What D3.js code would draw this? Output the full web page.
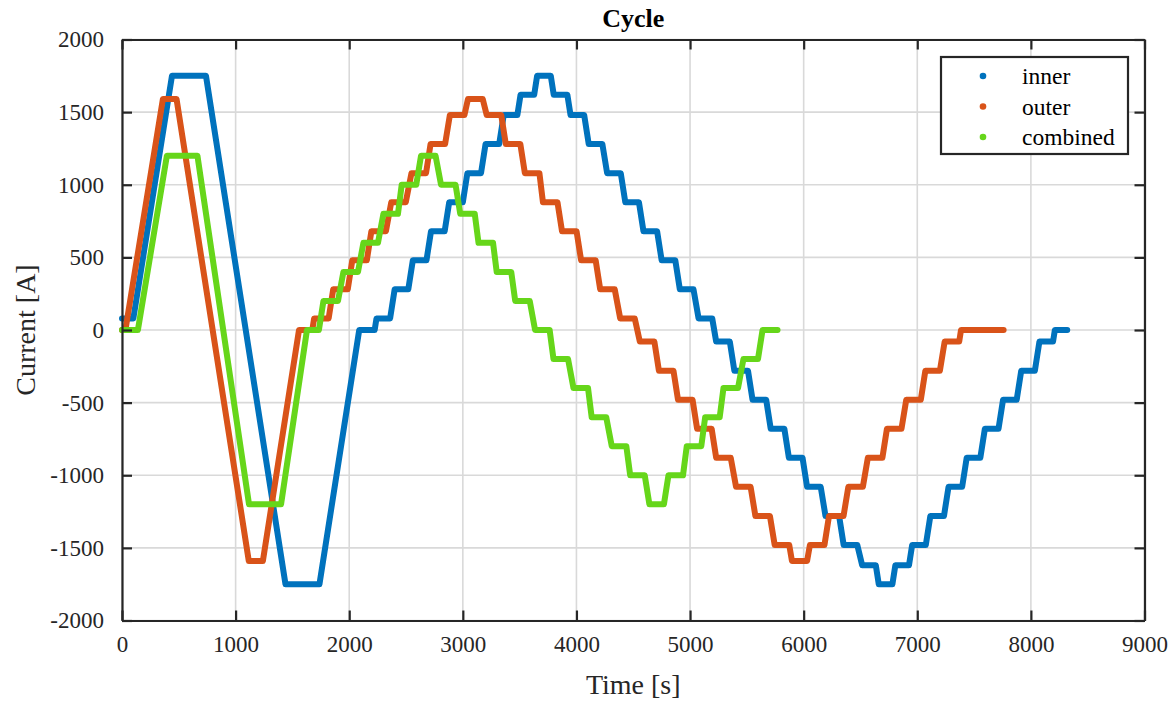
<!DOCTYPE html>
<html>
<head>
<meta charset="utf-8">
<script src="https://cdn.jsdelivr.net/npm/d3@7"></script>
<style>
  html, body { margin: 0; padding: 0; background: #fff; }
  svg { display: block; font-family: "Liberation Serif", "Times New Roman", serif; }
</style>
</head>
<body>
<svg id="chart" width="1175" height="701"></svg>
<script>
// ---------------- data ----------------
const seriesNames = ["inner", "outer", "combined"];
const seriesColors = ["#0072BD", "#D95319", "#66D61A"];

const xTicks = [0, 1000, 2000, 3000, 4000, 5000, 6000, 7000, 8000, 9000];
const yTicks = [-2000, -1500, -1000, -500, 0, 500, 1000, 1500, 2000];

// inner coil: breakpoint times [s] and currents [A]
const innerTime = [0, 100, 440, 739, 1439, 1738, 2088, 2224,
  2240, 2360, 2400, 2520, 2560, 2680, 2720, 2840, 2880, 3000, 3040, 3160,
  3200, 3320, 3360, 3480, 3508, 3628, 3654, 3774, 3800, 3920, 3948, 4068,
  4108, 4228, 4270, 4390, 4430, 4550, 4590, 4710, 4750, 4870, 4910, 5030,
  5075, 5195, 5230, 5350, 5390, 5510, 5550, 5670, 5710, 5830, 5870, 5990,
  6030, 6150, 6192, 6312, 6352, 6472, 6515, 6635, 6661, 6781, 6807, 6927,
  6955, 7075, 7115, 7235, 7275, 7395, 7435, 7555, 7595, 7715, 7755, 7875,
  7915, 8035, 8075, 8195, 8211, 8320];
const innerCurrent = [80, 80, 1750, 1750, -1750, -1750, 0, 0,
  80, 80, 280, 280, 480, 480, 680, 680, 880, 880, 1080, 1080,
  1280, 1280, 1480, 1480, 1620, 1620, 1750, 1750, 1620, 1620, 1480, 1480,
  1280, 1280, 1080, 1080, 880, 880, 680, 680, 480, 480, 280, 280,
  80, 80, -80, -80, -280, -280, -480, -480, -680, -680, -880, -880,
  -1080, -1080, -1280, -1280, -1480, -1480, -1620, -1620, -1750, -1750, -1620, -1620,
  -1480, -1480, -1280, -1280, -1080, -1080, -880, -880, -680, -680, -480, -480,
  -280, -280, -80, -80, 0, 0];

// outer coil
const outerTime = [0, 30, 360, 480, 1116, 1240, 1558, 1675,
  1691, 1819, 1859, 1987, 2027, 2155, 2195, 2323, 2370, 2498, 2548, 2676,
  2716, 2844, 2886, 3014, 3045, 3175, 3210, 3338, 3378, 3506, 3546, 3674,
  3705, 3833, 3873, 4001, 4041, 4169, 4209, 4337, 4385, 4513, 4558, 4686,
  4726, 4854, 4894, 5022, 5062, 5190, 5230, 5358, 5405, 5533, 5575, 5703,
  5745, 5873, 5897, 6030, 6055, 6183, 6223, 6351, 6393, 6521, 6565, 6693,
  6733, 6861, 6903, 7031, 7071, 7199, 7241, 7369, 7385, 7760];
const outerCurrent = [0, 0, 1590, 1590, -1590, -1590, 0, 0,
  80, 80, 280, 280, 480, 480, 680, 680, 880, 880, 1080, 1080,
  1280, 1280, 1480, 1480, 1590, 1590, 1480, 1480, 1280, 1280, 1080, 1080,
  880, 880, 680, 680, 480, 480, 280, 280, 80, 80, -80, -80,
  -280, -280, -480, -480, -680, -680, -880, -880, -1080, -1080, -1280, -1280,
  -1480, -1480, -1590, -1590, -1480, -1480, -1280, -1280, -1080, -1080, -880, -880,
  -680, -680, -480, -480, -280, -280, -80, -80, 0, 0];

// combined
const combinedTime = [0, 140, 395, 664, 1118, 1400, 1628, 1733,
  1773, 1901, 1949, 2077, 2125, 2253, 2301, 2429, 2462, 2590, 2632, 2760,
  2808, 2936, 2977, 3105, 3138, 3266, 3298, 3426, 3461, 3589, 3636, 3764,
  3798, 3926, 3974, 4102, 4134, 4262, 4311, 4439, 4473, 4601, 4642, 4770,
  4810, 4938, 4971, 5099, 5133, 5261, 5294, 5422, 5470, 5598, 5638, 5770];
const combinedCurrent = [0, 0, 1200, 1200, -1200, -1200, 0, 0,
  200, 200, 400, 400, 600, 600, 800, 800, 1000, 1000, 1200, 1200,
  1000, 1000, 800, 800, 600, 600, 400, 400, 200, 200, 0, 0,
  -200, -200, -400, -400, -600, -600, -800, -800, -1000, -1000, -1200, -1200,
  -1000, -1000, -800, -800, -600, -600, -400, -400, -200, -200, 0, 0];

// ---------------- layout ----------------
const W = 1175, H = 701;
const m = { left: 122, top: 39.5, right: 30.5, bottom: 80.5 };
const pw = W - m.left - m.right;   // plot width
const ph = H - m.top - m.bottom;   // plot height

const svg = d3.select("#chart");
const x = d3.scaleLinear().domain([0, 9000]).range([0, pw]);
const y = d3.scaleLinear().domain([-2000, 2000]).range([ph, 0]);

const g = svg.append("g").attr("transform", `translate(${m.left},${m.top})`);

// background
g.append("rect").attr("width", pw).attr("height", ph).attr("fill", "#fff");

// grid
const grid = g.append("g").attr("class", "grid");
grid.selectAll("line.vx").data(xTicks).join("line")
  .attr("x1", d => x(d)).attr("x2", d => x(d))
  .attr("y1", 0).attr("y2", ph)
  .attr("stroke", "#d9d9d9").attr("stroke-width", 1.6);
grid.selectAll("line.hy").data(yTicks).join("line")
  .attr("y1", d => y(d)).attr("y2", d => y(d))
  .attr("x1", 0).attr("x2", pw)
  .attr("stroke", "#d9d9d9").attr("stroke-width", 1.6);

// clip
svg.append("defs").append("clipPath").attr("id", "clip")
  .append("rect").attr("x", -3).attr("y", -3).attr("width", pw + 6).attr("height", ph + 6);

const series = [
  { name: seriesNames[0], color: seriesColors[0], t: innerTime, v: innerCurrent },
  { name: seriesNames[1], color: seriesColors[1], t: outerTime, v: outerCurrent },
  { name: seriesNames[2], color: seriesColors[2], t: combinedTime, v: combinedCurrent }
];

const line = d3.line().x(d => x(d[0])).y(d => y(d[1]));
const lines = g.append("g").attr("clip-path", "url(#clip)");
series.forEach(s => {
  const pts = s.t.map((t, i) => [t, s.v[i]]);
  lines.append("path").datum(pts)
    .attr("d", line)
    .attr("fill", "none")
    .attr("stroke", s.color)
    .attr("stroke-width", 6)
    .attr("stroke-linejoin", "round")
    .attr("stroke-linecap", "round");
});

// axes
const axisColor = "#262626";
const tickLen = 10;
function styleAxis(sel) {
  sel.select(".domain").attr("stroke", axisColor).attr("stroke-width", 2.2);
  sel.selectAll(".tick line").attr("stroke", axisColor).attr("stroke-width", 2.2);
  sel.selectAll(".tick text").attr("fill", "#262626").style("font-size", "23px")
     .style("font-family", "'Liberation Serif', 'Times New Roman', serif");
}

const xAxis = g.append("g").attr("transform", `translate(0,${ph})`)
  .call(d3.axisBottom(x).tickValues(xTicks).tickSize(-tickLen).tickSizeOuter(0).tickPadding(15).tickFormat(d3.format("d")));
styleAxis(xAxis);
const xAxisTop = g.append("g")
  .call(d3.axisTop(x).tickValues(xTicks).tickSize(-tickLen).tickSizeOuter(0).tickFormat(""));
styleAxis(xAxisTop);
const yAxis = g.append("g")
  .call(d3.axisLeft(y).tickValues(yTicks).tickSize(-tickLen).tickSizeOuter(0).tickPadding(18).tickFormat(d3.format("d")));
styleAxis(yAxis);
const yAxisRight = g.append("g").attr("transform", `translate(${pw},0)`)
  .call(d3.axisRight(y).tickValues(yTicks).tickSize(-tickLen).tickSizeOuter(0).tickFormat(""));
styleAxis(yAxisRight);

// MATLAB shows a plain hyphen-minus
yAxis.selectAll(".tick text").text(d => d < 0 ? "-" + Math.abs(d) : d);

// labels
svg.append("text").attr("x", m.left + pw / 2).attr("y", 27)
  .attr("text-anchor", "middle").attr("font-weight", "bold")
  .style("font-size", "26px").attr("fill", "#000").text("Cycle");
svg.append("text").attr("x", m.left + pw / 2).attr("y", 694)
  .attr("text-anchor", "middle").style("font-size", "28px").attr("fill", "#262626").text("Time [s]");
svg.append("text").attr("transform", `translate(35,${m.top + ph / 2}) rotate(-90)`)
  .attr("text-anchor", "middle").style("font-size", "28px").attr("fill", "#262626").text("Current [A]");

// legend
const lg = svg.append("g").attr("transform", "translate(941,57)");
lg.append("rect").attr("width", 187).attr("height", 97)
  .attr("fill", "#fff").attr("stroke", axisColor).attr("stroke-width", 2.2);
series.forEach((s, i) => {
  const cy = 19 + i * 30.5;
  lg.append("circle").attr("cx", 42).attr("cy", cy).attr("r", 3.3).attr("fill", s.color);
  lg.append("text").attr("x", 81).attr("y", cy + 8).style("font-size", "23.5px")
    .attr("fill", "#000").text(s.name);
});
</script>
</body>
</html>
